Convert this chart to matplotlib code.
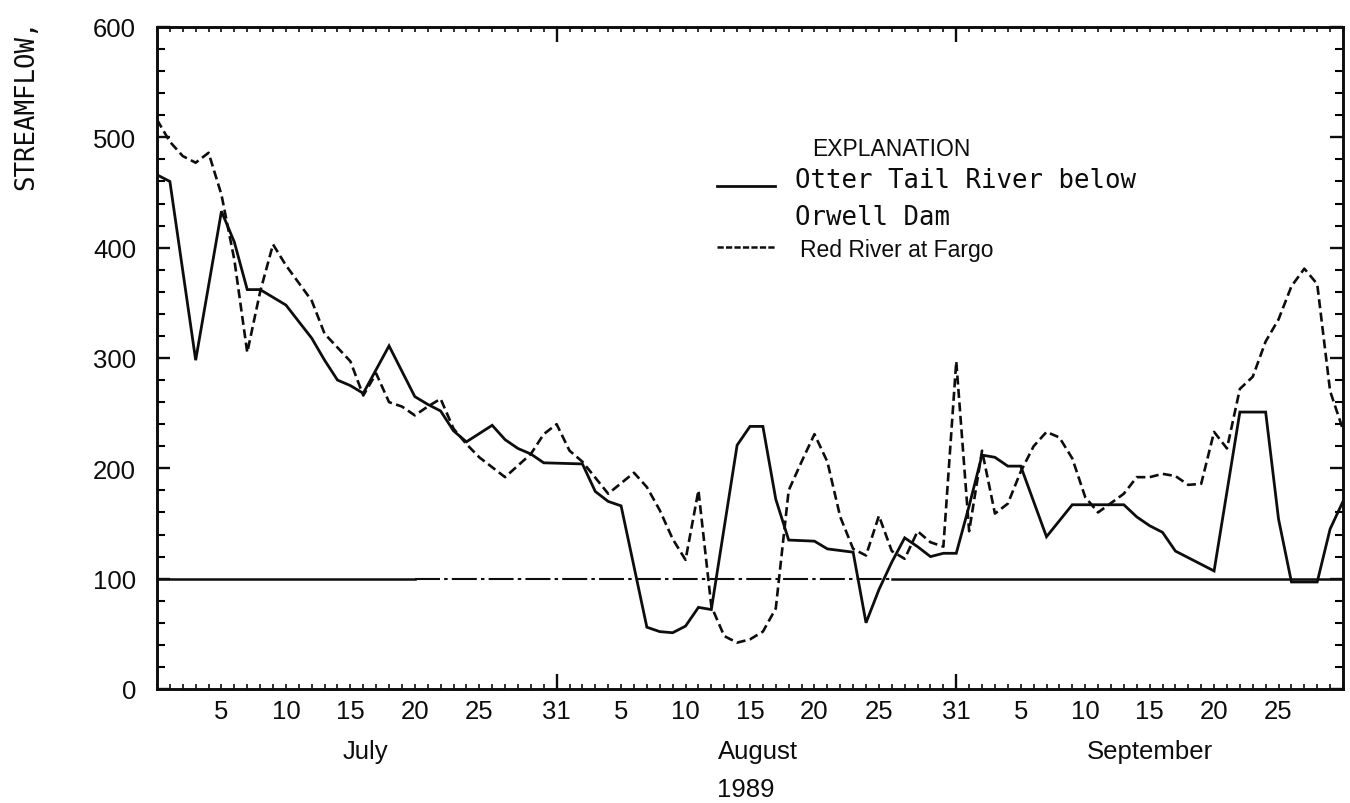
import matplotlib
matplotlib.use("Agg")
import matplotlib.pyplot as plt
from matplotlib.lines import Line2D
from matplotlib.ticker import FixedLocator, MultipleLocator

plt.rcParams['lines.scale_dashes'] = False

# ---------------- data (day 0 = June 30, 1989; day 1 = July 1) ----------------
otter_days = [0, 1, 3, 5, 6, 7, 8, 10, 11, 12, 13, 14, 15, 16, 18, 20, 21, 22, 23, 24,
              26, 27, 28, 29, 30, 33, 34, 35, 36, 38, 39, 40, 41, 42, 43, 45, 46, 47,
              48, 49, 51, 52, 54, 55, 56, 57, 58, 59, 60, 61, 62, 63, 64, 65, 66, 67,
              69, 71, 75, 76, 77, 78, 79, 82, 84, 86, 87, 88, 90, 91, 92]
otter_flow = [466, 460, 298, 433, 405, 362, 362, 348, 333, 318, 298, 280, 275, 268, 311, 265, 258, 252, 234, 224,
              239, 226, 218, 213, 205, 204, 179, 170, 166, 56, 52, 51, 57, 74, 72, 221, 238, 238,
              172, 135, 134, 127, 124, 60, 90, 115, 137, 129, 120, 123, 123, 166, 212, 210, 202, 202,
              138, 167, 167, 156, 148, 142, 125, 107, 251, 251, 154, 97, 97, 145, 170]

fargo_days = [0, 1, 2, 3, 4, 5, 6, 7, 8, 9, 10, 12, 13, 15, 16, 17, 18, 19, 20, 21, 22, 23,
              24, 25, 27, 29, 30, 31, 32, 33, 35, 37, 38, 39, 40, 41, 42, 43, 44, 45, 46,
              47, 48, 49, 50, 51, 52, 53, 54, 55, 56, 57, 58, 59, 60, 61, 62, 63, 64, 65,
              66, 67, 68, 69, 70, 71, 72, 73, 75, 76, 77, 78, 79, 80, 81, 82, 83, 84, 85,
              86, 87, 88, 89, 90, 91, 92]
fargo_flow = [516, 496, 483, 477, 486, 448, 389, 305, 360, 403, 384, 352, 322, 297, 266, 286, 260, 256, 248, 256, 263, 236,
              222, 210, 192, 213, 231, 240, 216, 206, 177, 196, 183, 162, 136, 117, 180, 75, 48, 42, 45,
              52, 73, 180, 206, 231, 206, 156, 127, 121, 157, 125, 118, 143, 133, 129, 297, 143, 216, 159,
              168, 197, 220, 233, 228, 209, 174, 160, 177, 192, 192, 195, 193, 185, 186, 233, 218, 272, 283,
              315, 335, 365, 381, 367, 270, 235]

reference_flow = 100
ref_solid_spans = [(0, 20), (57, 92)]
ref_dashdot_span = (20, 57)

y_ticks = [0, 100, 200, 300, 400, 500, 600]
day_ticks = [5, 10, 15, 20, 25, 31, 36, 41, 46, 51, 56, 62, 67, 72, 77, 82, 87]
day_labels = ['5', '10', '15', '20', '25', '31', '5', '10', '15', '20', '25', '31',
              '5', '10', '15', '20', '25']
month_boundaries = [31, 62]
month_names = ['July', 'August', 'September']
month_label_days = [16.2, 46.6, 77.0]
year_label = '1989'
ylabel = 'STREAMFLOW,'
legend_title = 'EXPLANATION'
otter_label_lines = ['Otter Tail River below', 'Orwell Dam']
fargo_label = 'Red River at Fargo'

# ---------------- figure ----------------
W, H = 1350, 804
fig = plt.figure(figsize=(W / 100, H / 100), dpi=100)
fig.patch.set_facecolor('white')

L, R, T, B = 157, 1343, 28, 690
ax = fig.add_axes([L / W, 1 - B / H, (R - L) / W, (B - T) / H])
ax.set_xlim(0, 92)
ax.set_ylim(0, 600)

SANS = 'Liberation Sans'
MONO = 'DejaVu Sans Mono'
ink = '#0d0d0d'

red_dash = (0, (6.5, 3.2))

ax.plot(otter_days, otter_flow, color=ink, lw=2.0, solid_joinstyle='miter')
ax.plot(fargo_days, fargo_flow, color=ink, lw=1.9, linestyle=red_dash)

for a, b in ref_solid_spans:
    ax.plot([a, b], [reference_flow, reference_flow], color=ink, lw=1.8)
ax.plot(list(ref_dashdot_span), [reference_flow, reference_flow], color=ink, lw=1.5,
        linestyle=(0, (18, 3, 2.5, 3)))

for s in ax.spines.values():
    s.set_linewidth(2.1)
    s.set_color(ink)

# y ticks both sides, inward
ax.yaxis.set_major_locator(FixedLocator(y_ticks))
ax.yaxis.set_minor_locator(MultipleLocator(20))
ax.tick_params(axis='y', which='major', direction='in', length=9.5, width=1.7,
               left=True, right=True, pad=15, labelsize=18.5, colors=ink)
ax.tick_params(axis='y', which='minor', direction='in', length=6, width=1.5,
               left=True, right=True)
ax.set_yticklabels([str(v) for v in y_ticks], fontfamily=SANS)

# x ticks: daily minor, labelled majors, both top and bottom
ax.xaxis.set_major_locator(FixedLocator(day_ticks))
ax.xaxis.set_minor_locator(MultipleLocator(1))
ax.set_xticklabels(day_labels, fontfamily=SANS)
ax.tick_params(axis='x', which='both', direction='in', length=3.5, width=1.2,
               top=True, bottom=True, pad=7, labelsize=18.5, colors=ink)

for side in ('bottom', 'top'):
    sec = ax.secondary_xaxis(side)
    sec.set_xticks(month_boundaries)
    sec.tick_params(direction='in', length=11, width=1.7, labelbottom=False,
                    labeltop=False, colors=ink)
    for sp in sec.spines.values():
        sp.set_visible(False)

# month / year labels
for name, d in zip(month_names, month_label_days):
    ax.text(d, -0.094, name, transform=ax.get_xaxis_transform(), ha='center',
            va='center', fontsize=18.5, fontfamily=SANS, color=ink)
ax.text(45.7, -0.151, year_label, transform=ax.get_xaxis_transform(), ha='center',
        va='center', fontsize=18.5, fontfamily=SANS, color=ink)

# y label
fig.text(26 / W, 1 - 105 / H, ylabel, rotation=90, ha='center', va='center',
         fontsize=18.5, fontfamily=MONO, color=ink)

# explanation / legend
fig.text(812 / W, 1 - 150 / H, legend_title, ha='left', va='center', fontsize=16.5,
         fontfamily=SANS, color=ink)
for i, line in enumerate(otter_label_lines):
    fig.text(795 / W, 1 - (181 + 37 * i) / H, line, ha='left', va='center', fontsize=18.5,
             fontfamily=MONO, color=ink)
fig.text(800 / W, 1 - 251 / H, fargo_label, ha='left', va='center', fontsize=16.5,
         fontfamily=SANS, color=ink)
fig.add_artist(Line2D([717 / W, 775 / W], [1 - 187 / H, 1 - 187 / H], color=ink, lw=2.0,
                      transform=fig.transFigure))
fig.add_artist(Line2D([717 / W, 775 / W], [1 - 248 / H, 1 - 248 / H], color=ink, lw=1.8,
                      linestyle=(0, (4.5, 1.6)), transform=fig.transFigure))

fig.savefig('out.png', dpi=100, facecolor='white')
